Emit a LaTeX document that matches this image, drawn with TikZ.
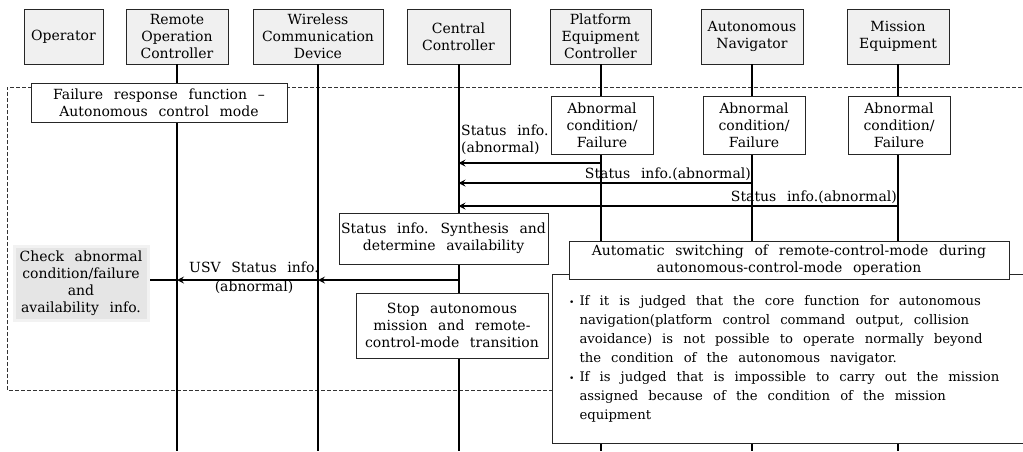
\documentclass[tikz,border=0pt]{standalone}
\usepackage{fontspec}
\setmainfont{DejaVu Serif}[WordSpace=2.4]
\usetikzlibrary{positioning}

\newcommand{\boxfont}{\fontsize{14}{17}\selectfont}
\newcommand{\notefont}{\fontsize{13.2}{19}\selectfont}
\tikzstyle{actor}=[draw=black!85,fill=black!6,thin,inner sep=0pt,
    align=center,minimum height=55pt,font=\boxfont]
\tikzstyle{procbox}=[draw=black!85,fill=white,thin,inner sep=0pt,
    align=center,font=\boxfont]
\tikzstyle{lifeline}=[line width=2pt]
\tikzstyle{msg}=[line width=2pt,->,>=stealth]
\tikzstyle{msglabel}=[inner sep=1pt,font=\boxfont]
\tikzstyle{region}=[draw=black!80,thin,dash pattern=on 4pt off 2pt]
\newcommand{\actor}[4][]{
    \node[actor,#1] (#3) at (#2) {#4};
}
\newcommand{\lifeline}[1]{
    \draw[lifeline] (#1.south) -- (#1.south |- 0,451);
}
\newcommand{\statusmsg}[4][]{
    \draw[msg,#1] (#2 |- 0,#4) -- (#3 |- 0,#4);
}

\begin{document}
\begin{tikzpicture}[x=1pt,y=-1pt]
    \useasboundingbox (0,0) rectangle (1023,451);
    \draw[region] (1040,87) -- (7,87) -- (7,390) -- (1040,390);
    %
    \actor[minimum width=79pt]{63.5,36.5}{op}{Operator}
    \actor[minimum width=102pt]{177,36.5}{roc}{Remote\\Operation\\Controller}
    \actor[minimum width=130pt]{318,36.5}{wcd}{Wireless\\Communication\\Device}
    \actor[minimum width=103pt]{458.5,36.5}{cc}{Central\\Controller}
    \actor[minimum width=101pt]{600.5,36.5}{pec}{Platform\\Equipment\\Controller}
    \actor[minimum width=102pt]{752,36.5}{anv}{Autonomous\\Navigator}
    \actor[minimum width=102pt]{898,36.5}{me}{Mission\\Equipment}
    \lifeline{roc}
    \lifeline{wcd}
    \lifeline{cc}
    \lifeline{pec}
    \lifeline{anv}
    \lifeline{me}
    %
    \node[procbox,minimum width=256pt,minimum height=39pt] (frf) at (159,102.5)
        {Failure response function --\\Autonomous control mode};
    \node[procbox,minimum width=102pt,minimum height=58pt] (pecfail) at (602,125)
        {Abnormal\\condition/\\Failure};
    \node[procbox,minimum width=102pt,minimum height=58pt] (anvfail) at (754,125)
        {Abnormal\\condition/\\Failure};
    \node[procbox,minimum width=102pt,minimum height=58pt] (mefail) at (899,125)
        {Abnormal\\condition/\\Failure};
    %
    \statusmsg{pec}{cc}{163}
    \statusmsg{anv}{cc}{183}
    \statusmsg{me}{cc}{206}
    \node[msglabel,align=left,anchor=west] (lab1) at (460,140)
        {Status info.\\(abnormal)};
    \node[msglabel,anchor=south east] (lab2) at (anv |- 0,182)
        {Status info.(abnormal)};
    \node[msglabel,anchor=south east] (lab3) at (me |- 0,205)
        {Status info.(abnormal)};
    %
    \node[procbox,minimum width=209pt,minimum height=51pt] (synth) at (443.5,238.5)
        {Status info. Synthesis and\\determine availability};
    \node[procbox,minimum width=192pt,minimum height=65pt] (stop) at (452,325.5)
        {Stop autonomous\\mission and remote-\\control-mode transition};
    %
    \node[fill=black!10,draw=black!5,line width=3pt,minimum width=134pt,
        minimum height=74pt,align=center,font=\boxfont] (chk) at (81,283.5)
        {Check abnormal\\condition/failure\\and\\availability info.};
    \statusmsg{cc}{wcd}{280}
    \statusmsg{wcd}{roc}{280}
    \draw[lifeline] (roc |- 0,280) -- (chk.east |- 0,280);
    \node[msglabel,align=center] (usv) at (254,278)
        {USV Status info.\\[2pt](abnormal)};
    %
    \node[draw=black!85,fill=white,thin,inner sep=0pt,anchor=north west,
        minimum width=490pt,minimum height=169pt] (note) at (552,274) {};
    \node[procbox,minimum width=440pt,minimum height=38pt] (asw) at (789,260)
        {Automatic switching of remote-control-mode during\\autonomous-control-mode operation};
    \node[anchor=north west,inner sep=0pt,font=\notefont] (notetext) at (569,292)
        {\begin{tabular}{@{}l@{\hspace{5pt}}l@{}}
        {\small\textbullet} & If it is judged that the core function for autonomous\\
         & navigation(platform control command output, collision\\
         & avoidance) is not possible to operate normally beyond\\
         & the condition of the autonomous navigator.\\
        {\small\textbullet} & If is judged that is impossible to carry out the mission\\
         & assigned because of the condition of the mission\\
         & equipment
        \end{tabular}};
\end{tikzpicture}
\end{document}
